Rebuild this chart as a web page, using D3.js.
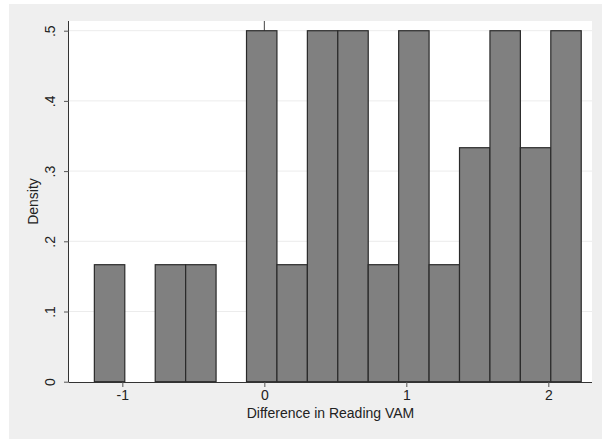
<!DOCTYPE html>
<html>
<head>
<meta charset="utf-8">
<script src="https://cdn.jsdelivr.net/npm/d3@7"></script>
<style>
  body { margin: 0; background: #fff; }
  text { font-family: "Liberation Sans", Arial, sans-serif; fill: #222; }
</style>
</head>
<body>
<script>
// histogram of difference in reading VAM, 16 bins
var binStart = -1.197,
    binWidth = 0.2143;
var counts = [1, 0, 1, 1, 0, 3, 1, 3, 3, 1, 3, 1, 2, 3, 2, 3];
var xTicks = [-1, 0, 1, 2],
    xTickLabels = ["-1", "0", "1", "2"];
var yTicks = [0, 0.1, 0.2, 0.3, 0.4, 0.5],
    yTickLabels = ["0", ".1", ".2", ".3", ".4", ".5"];

var width = 602, height = 439;
var pLeft = 69, pRight = 592, pTop = 21, pBottom = 382;

var total = d3.sum(counts);
var bins = counts.map(function(c, i) {
  return {x0: binStart + i*binWidth, x1: binStart + (i+1)*binWidth, density: c/(total*binWidth)};
});

var x = d3.scaleLinear().domain([-1.3756, 2.3076]).range([pLeft, pRight]);
var y = d3.scaleLinear().domain([0, 0.5]).range([381.7, 30.7]);

var svg = d3.select("body").append("svg")
    .attr("width", width)
    .attr("height", height);

svg.append("rect")
   .attr("x", 9).attr("y", 4)
   .attr("width", width-9).attr("height", height-4)
   .attr("fill", "#efefef");

svg.append("rect")
   .attr("x", pLeft).attr("y", pTop)
   .attr("width", pRight-pLeft).attr("height", pBottom-pTop)
   .attr("fill", "#fff");

// gridlines
svg.append("g")
   .selectAll("line")
   .data(yTicks.slice(1))
   .enter().append("line")
   .attr("x1", pLeft).attr("x2", pRight)
   .attr("y1", function(d){return y(d);})
   .attr("y2", function(d){return y(d);})
   .attr("stroke", "#ececec")
   .attr("stroke-width", 1);

// line at zero
svg.append("line")
   .attr("x1", x(0)).attr("x2", x(0))
   .attr("y1", pTop).attr("y2", pBottom)
   .attr("stroke", "#444")
   .attr("stroke-width", 1);

svg.append("g")
   .selectAll("rect")
   .data(bins.filter(function(d){return d.density > 0;}))
   .enter().append("rect")
   .attr("x", function(d){return x(d.x0);})
   .attr("width", function(d){return x(d.x1) - x(d.x0);})
   .attr("y", function(d){return y(d.density);})
   .attr("height", function(d){return y(0) - y(d.density);})
   .attr("fill", "#808080")
   .attr("stroke", "#2a2a2a")
   .attr("stroke-width", 1.2);

var xAxis = svg.append("g")
   .attr("transform", "translate(0," + pBottom + ")")
   .call(d3.axisBottom(x).tickValues(xTicks).tickSize(5).tickPadding(3)
         .tickFormat(function(d, i){return xTickLabels[i];}));
xAxis.select(".domain").attr("d", "M" + pLeft + ",0.5H" + pRight).attr("stroke", "#333");
xAxis.selectAll(".tick line").attr("stroke", "#555");
xAxis.selectAll("text").attr("font-size", 14).attr("fill", "#222");

var yAxis = svg.append("g")
   .attr("transform", "translate(" + pLeft + ",0)")
   .call(d3.axisLeft(y).tickValues(yTicks).tickSize(5)
         .tickFormat(function(d, i){return yTickLabels[i];}));
yAxis.select(".domain").attr("d", "M-0.5," + pTop + "V" + pBottom).attr("stroke", "#333");
yAxis.selectAll(".tick line").attr("stroke", "#555");
yAxis.selectAll("text")
     .attr("font-size", 14).attr("fill", "#222")
     .attr("x", null)
     .attr("text-anchor", "middle")
     .attr("transform", "translate(-19,0) rotate(-90)")
     .attr("dy", "0.35em");

svg.append("text")
   .attr("x", (pLeft+pRight)/2).attr("y", 418)
   .attr("text-anchor", "middle")
   .attr("font-size", 14)
   .text("Difference in Reading VAM");

svg.append("text")
   .attr("transform", "translate(38," + ((pTop+pBottom)/2) + ") rotate(-90)")
   .attr("text-anchor", "middle")
   .attr("font-size", 14)
   .text("Density");
</script>
</body>
</html>
